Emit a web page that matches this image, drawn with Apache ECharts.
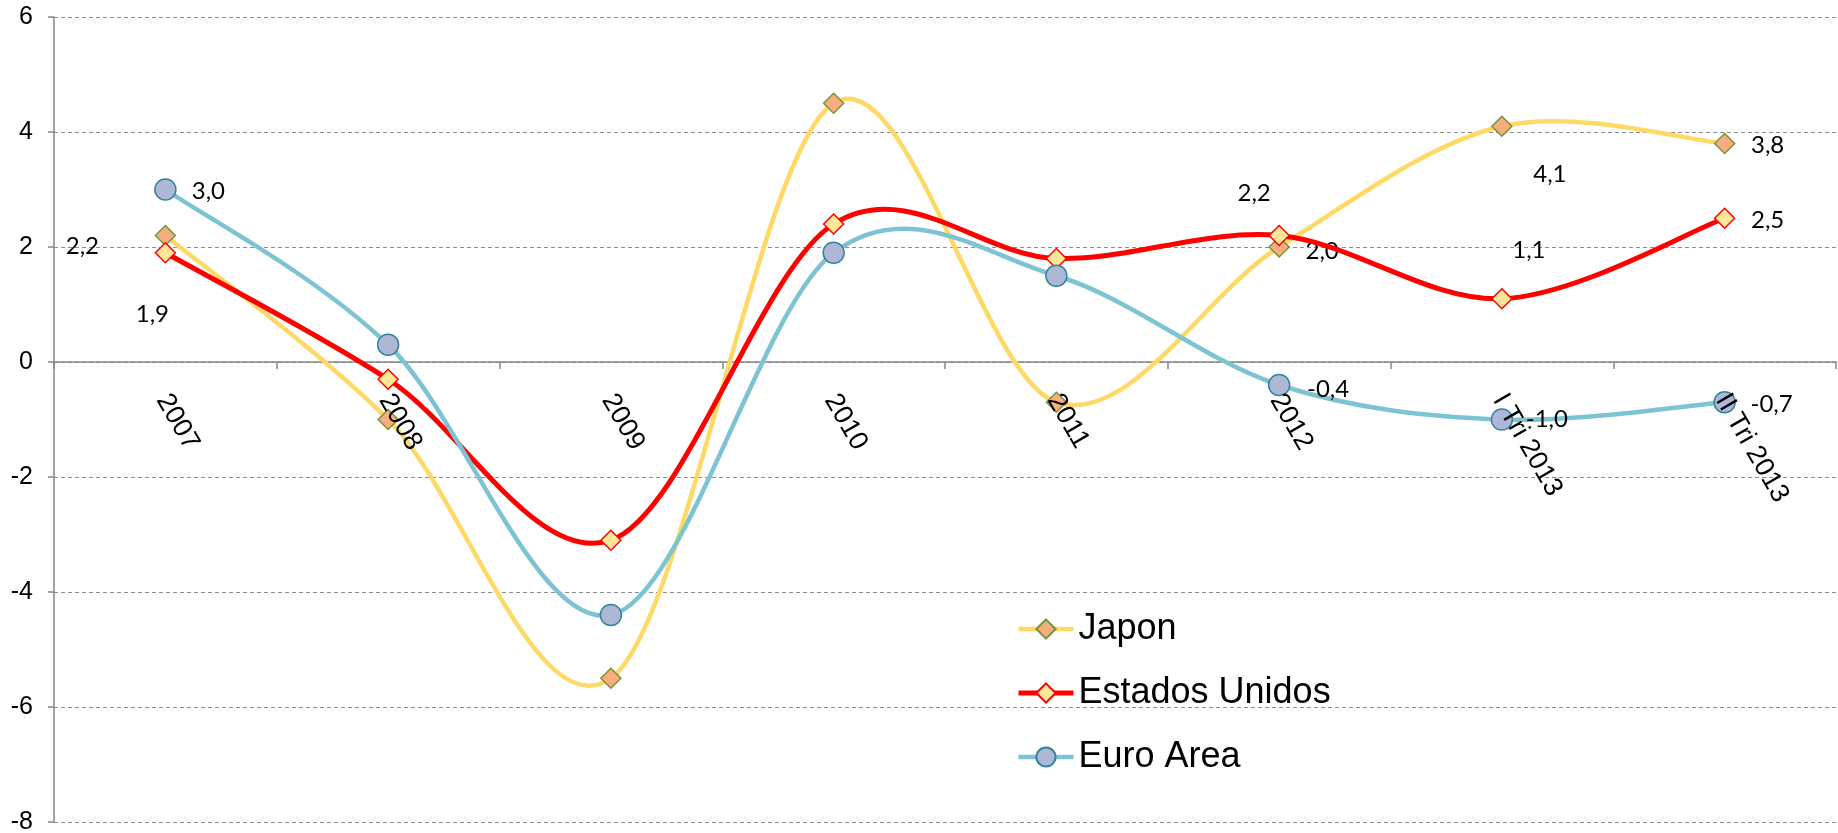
<!DOCTYPE html>
<html>
<head>
<meta charset="utf-8">
<script src="https://cdn.jsdelivr.net/npm/echarts@6/dist/echarts.min.js"></script>
<style>
  html, body { margin: 0; padding: 0; background: #ffffff; }
  #chart { width: 1838px; height: 833px; }
</style>
</head>
<body>
<div id="chart"></div>
<script>
// Growth rates by period
const categories = ['2007', '2008', '2009', '2010', '2011', '2012', 'I Tri 2013', 'II Tri 2013'];
const japon = [2.2, -1.0, -5.5, 4.5, -0.7, 2.0, 4.1, 3.8];
const estadosUnidos = [1.9, -0.3, -3.1, 2.4, 1.8, 2.2, 1.1, 2.5];
const euroArea = [3.0, 0.3, -4.4, 1.9, 1.5, -0.4, -1.0, -0.7];
const yTicks = { min: -8, max: 6, step: 2 };

// Which points carry a value label, and where the label sits around the marker
const labelOffsets = {
  japon:         { 0: [-83, 11], 5: [43, 4], 6: [48, 48], 7: [43, 2] },
  estadosUnidos: { 0: [-13, 62], 5: [-25, -42], 6: [27, -48], 7: [43, 2] },
  euroArea:      { 0: [43, 2], 5: [49, 4], 6: [45, 0], 7: [47, 2] }
};

const AXIS_FONT = '"Liberation Sans", Arial, sans-serif';
const LABEL_FONT = 'Lato, "Open Sans", sans-serif';
const fmt = v => v.toFixed(1).replace('.', ',');

function buildData(values, offsets) {
  return values.map((v, i) => {
    const off = offsets[i];
    if (!off) return { value: v };
    return {
      value: v,
      label: {
        show: true,
        position: 'inside',
        offset: off,
        formatter: p => fmt(p.value),
        color: '#000000',
        fontFamily: LABEL_FONT,
        fontSize: 24
      }
    };
  });
}

// Smoothed curve: cubic Bezier segments with Catmull-Rom tangents,
// positioned through the grid's own coordinate system.
function curveSeries(values, color, width, z) {
  const n = values.length;
  return {
    type: 'custom',
    z: z,
    silent: true,
    coordinateSystem: 'cartesian2d',
    data: values.map((v, i) => [i, v]),
    encode: { x: 0, y: 1 },
    renderItem: function (params, api) {
      const i = params.dataIndex;
      if (i >= n - 1) return null;
      const pt = k => {
        const c = Math.max(0, Math.min(n - 1, k));
        return api.coord([c, values[c]]);
      };
      const p0 = pt(i - 1), p1 = pt(i), p2 = pt(i + 1), p3 = pt(i + 2);
      const t1 = [(p2[0] - p0[0]) / 2, (p2[1] - p0[1]) / 2];
      const t2 = [(p3[0] - p1[0]) / 2, (p3[1] - p1[1]) / 2];
      return {
        type: 'bezierCurve',
        shape: {
          x1: p1[0], y1: p1[1],
          x2: p2[0], y2: p2[1],
          cpx1: p1[0] + t1[0] / 3, cpy1: p1[1] + t1[1] / 3,
          cpx2: p2[0] - t2[0] / 3, cpy2: p2[1] - t2[1] / 3
        },
        style: { stroke: color, lineWidth: width, fill: null, lineCap: 'round' }
      };
    }
  };
}

// Markers, value labels and legend entry for one country
function markerSeries(name, values, offsets, symbol, symbolSize, fill, border, z) {
  return {
    name: name,
    type: 'line',
    z: z,
    data: buildData(values, offsets),
    symbol: symbol,
    symbolSize: symbolSize,
    showAllSymbol: true,
    lineStyle: { width: 0, opacity: 0 },
    itemStyle: { color: fill, borderColor: border, borderWidth: 1.5 },
    label: { show: false },
    emphasis: { disabled: true }
  };
}

// Category names written along the zero line, slanted downwards
const categoryLabels = {
  type: 'custom',
  z: 20,
  silent: true,
  coordinateSystem: 'cartesian2d',
  data: categories.map((c, i) => [i, 0]),
  encode: { x: 0, y: 1 },
  renderItem: function (params, api) {
    const p = api.coord([params.dataIndex, 0]);
    return {
      type: 'text',
      x: p[0] - 3,
      y: p[1] + 34,
      rotation: -Math.PI / 3,
      style: {
        text: categories[params.dataIndex],
        fill: '#000000',
        font: '27px ' + AXIS_FONT,
        align: 'left',
        verticalAlign: 'middle'
      }
    };
  }
};

const colors = {
  japon: { line: '#FFD966', fill: '#F6AE7E', border: '#77933C' },
  eeuu: { line: '#FF0000', fill: '#FFE699', border: '#FF0000' },
  euro: { line: '#7EC3D3', fill: '#AEB8D6', border: '#31859C' }
};

const chart = echarts.init(document.getElementById('chart'), null, { renderer: 'canvas' });

chart.setOption({
  animation: false,
  backgroundColor: '#ffffff',
  grid: { left: 54, right: 2, top: 17, bottom: 11, containLabel: false, outerBoundsMode: 'none' },
  legend: {
    orient: 'vertical',
    left: 1011,
    top: 606,
    itemWidth: 55,
    itemHeight: 24,
    itemGap: 28,
    textStyle: { fontFamily: AXIS_FONT, fontSize: 36, lineHeight: 36, color: '#000000' },
    data: [
      { name: 'Japon', lineStyle: { color: colors.japon.line, width: 4.5, opacity: 1 } },
      { name: 'Estados Unidos', lineStyle: { color: colors.eeuu.line, width: 5, opacity: 1 } },
      { name: 'Euro Area', lineStyle: { color: colors.euro.line, width: 4.5, opacity: 1 } }
    ]
  },
  xAxis: {
    type: 'category',
    data: categories,
    boundaryGap: true,
    axisLine: { onZero: true, lineStyle: { color: '#868686', width: 1.5 } },
    axisTick: { show: true, length: 7, lineStyle: { color: '#868686', width: 1.5 } },
    axisLabel: { show: false },
    splitLine: { show: false }
  },
  yAxis: {
    type: 'value',
    min: yTicks.min,
    max: yTicks.max,
    interval: yTicks.step,
    axisLine: { show: true, lineStyle: { color: '#868686', width: 1.5 } },
    axisTick: { show: true, length: 6, lineStyle: { color: '#868686', width: 1.5 } },
    axisLabel: {
      margin: 21,
      color: '#000000',
      fontFamily: AXIS_FONT,
      fontSize: 25,
      formatter: v => String(v)
    },
    splitLine: { show: true, lineStyle: { color: '#8c8c8c', type: [4, 3], width: 1 } }
  },
  series: [
    curveSeries(japon, colors.japon.line, 4.5, 2),
    markerSeries('Japon', japon, labelOffsets.japon, 'diamond', 20, colors.japon.fill, colors.japon.border, 3),
    curveSeries(estadosUnidos, colors.eeuu.line, 5, 4),
    markerSeries('Estados Unidos', estadosUnidos, labelOffsets.estadosUnidos, 'diamond', 20, colors.eeuu.fill, colors.eeuu.border, 5),
    curveSeries(euroArea, colors.euro.line, 4.5, 6),
    markerSeries('Euro Area', euroArea, labelOffsets.euroArea, 'circle', 21, colors.euro.fill, colors.euro.border, 7),
    categoryLabels
  ]
});
</script>
</body>
</html>
